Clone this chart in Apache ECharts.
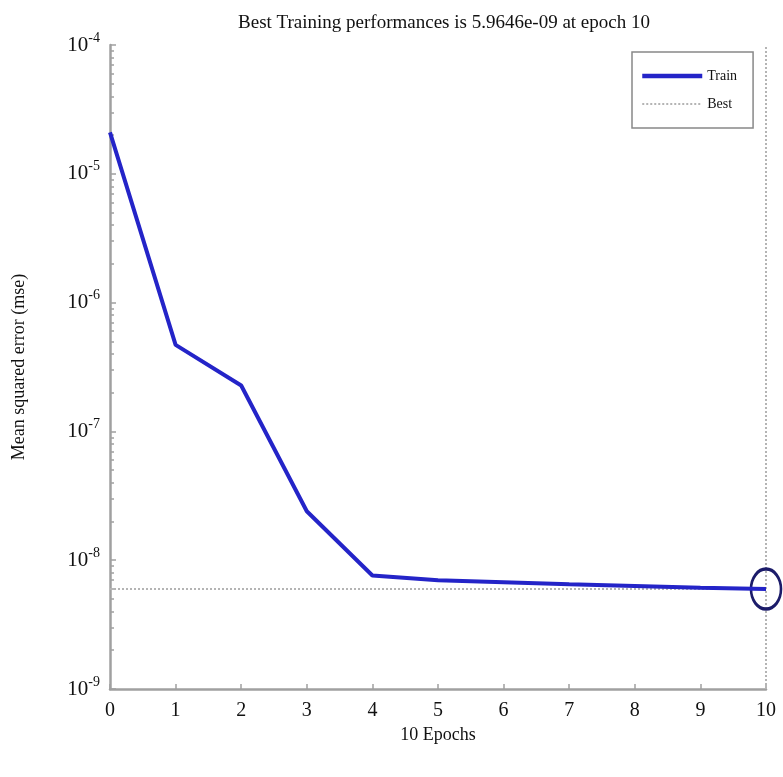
<!DOCTYPE html>
<html>
<head>
<meta charset="utf-8">
<script src="https://cdn.jsdelivr.net/npm/echarts@6/dist/echarts.min.js"></script>
<style>
  html, body { margin: 0; padding: 0; background: #ffffff; }
  #chart { width: 783px; height: 777px; }
</style>
</head>
<body>
<div id="chart"></div>
<script>
// Training performance: mean squared error per epoch (log scale)
const epochs = [0, 1, 2, 3, 4, 5, 6, 7, 8, 9, 10];
const trainMse = [2.1e-5, 4.7e-7, 2.27e-7, 2.4e-8, 7.6e-9, 7.0e-9, 6.75e-9, 6.5e-9, 6.3e-9, 6.1e-9, 5.9646e-9];
const bestEpoch = 10;
const bestMse = 5.9646e-9;
const xTicks = [0, 1, 2, 3, 4, 5, 6, 7, 8, 9, 10];
const yMin = 1e-9;
const yMax = 1e-4;

// minor ticks at 2..9 x 10^n inside every decade
const minorTicks = [];
for (let e = -9; e < -4; e++) {
  for (let m = 2; m <= 9; m++) minorTicks.push(m * Math.pow(10, e));
}

const FONT = '"Liberation Serif", "Times New Roman", serif';
const AXIS_GRAY = '#a0a0a0';
const TRAIN_BLUE = '#2424c8';
const BEST_GRAY = '#b4b4b4';

const chart = echarts.init(document.getElementById('chart'), null, { renderer: 'canvas' });

chart.setOption({
  backgroundColor: '#ffffff',
  animation: false,
  title: {
    text: 'Best Training performances is ' + bestMse.toExponential(4).replace('e-', 'e-0') + ' at epoch ' + bestEpoch,
    left: 439,
    textAlign: 'center',
    top: 9,
    textStyle: { fontFamily: FONT, fontSize: 19, fontWeight: 'normal', color: '#111' }
  },
  legend: {
    left: 632,
    top: 52,
    orient: 'vertical',
    padding: [17, 16, 17, 8],
    itemWidth: 60,
    itemHeight: 14,
    itemGap: 14,
    borderColor: '#888',
    borderWidth: 1.5,
    backgroundColor: '#fff',
    itemStyle: { opacity: 0 },
    textStyle: { fontFamily: FONT, fontSize: 14, color: '#111' },
    data: [
      { name: 'Train', lineStyle: { color: TRAIN_BLUE, width: 4.5 } },
      { name: 'Best', lineStyle: { color: BEST_GRAY, width: 2, type: 'dotted' } }
    ]
  },
  grid: { left: 110, right: 17, top: 45, bottom: 88, containLabel: false },
  xAxis: {
    type: 'value',
    min: 0,
    max: 10,
    interval: 1,
    name: bestEpoch + ' Epochs',
    nameLocation: 'middle',
    nameGap: 36,
    nameTextStyle: { fontFamily: FONT, fontSize: 18, color: '#111' },
    axisLine: { lineStyle: { color: AXIS_GRAY, width: 2.5 } },
    axisTick: { inside: true, length: 5, lineStyle: { color: AXIS_GRAY, width: 1.5 } },
    axisLabel: {
      fontFamily: FONT, fontSize: 20, color: '#111', margin: 12,
      customValues: xTicks
    },
    splitLine: { show: false }
  },
  yAxis: [
    {
      type: 'log',
      logBase: 10,
      min: yMin,
      max: yMax,
      name: 'Mean squared error (mse)',
      nameLocation: 'middle',
      nameGap: 82,
      nameRotate: 90,
      nameTextStyle: { fontFamily: FONT, fontSize: 18, color: '#111' },
      axisLine: { show: true, lineStyle: { color: AXIS_GRAY, width: 2.5 } },
      axisTick: { inside: true, length: 6, lineStyle: { color: AXIS_GRAY, width: 1.5 } },
      axisLabel: {
        margin: 10,
        formatter: function (v) {
          const p = Math.round(Math.log10(v));
          return '{b|10}{s|' + p + '}';
        },
        rich: {
          b: { fontFamily: FONT, fontSize: 21, color: '#111' },
          s: { fontFamily: FONT, fontSize: 14, color: '#111', padding: [0, 0, 14, 0] }
        }
      },
      splitLine: { show: false }
    },
    {
      type: 'log',
      logBase: 10,
      min: yMin,
      max: yMax,
      position: 'left',
      axisLine: { show: false },
      axisTick: {
        show: true, inside: true, length: 4,
        customValues: minorTicks,
        lineStyle: { color: AXIS_GRAY, width: 1.5 }
      },
      axisLabel: { show: false },
      splitLine: { show: false }
    }
  ],
  series: [
    {
      name: 'Train',
      type: 'line',
      data: epochs.map((e, i) => [e, trainMse[i]]),
      symbol: 'none',
      color: TRAIN_BLUE,
      lineStyle: { color: TRAIN_BLUE, width: 4 },
      z: 5,
      clip: false,
      markPoint: {
        symbol: 'circle',
        symbolSize: [30, 40],
        silent: true,
        itemStyle: { color: 'rgba(0,0,0,0)', borderColor: '#1c1c6a', borderWidth: 3 },
        label: { show: false },
        data: [{ coord: [bestEpoch, bestMse] }]
      }
    },
    {
      name: 'Best',
      type: 'line',
      data: [],
      symbol: 'none',
      color: BEST_GRAY,
      lineStyle: { color: BEST_GRAY, width: 2, type: 'dotted' },
      z: 3,
      markLine: {
        silent: true,
        symbol: 'none',
        label: { show: false },
        lineStyle: { color: BEST_GRAY, width: 2, type: 'dotted' },
        data: [
          [{ coord: [epochs[0], bestMse] }, { coord: [bestEpoch, bestMse] }],
          { xAxis: bestEpoch }
        ]
      }
    }
  ]
});
</script>
</body>
</html>
